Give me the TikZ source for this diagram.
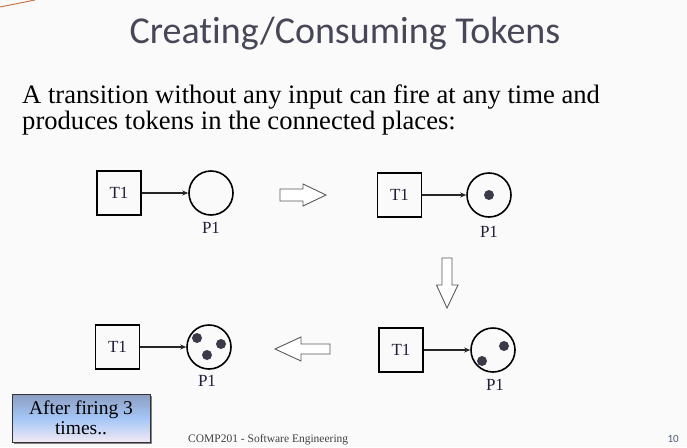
\documentclass[tikz,border=0pt]{standalone}
\usepackage{fontspec}
\setmainfont{Liberation Serif}
\newfontfamily\titlefont[Ligatures=NoCommon]{Carlito}
\usetikzlibrary{arrows.meta,shadows}
\definecolor{bgc}{HTML}{FAFAFA}
\definecolor{titlec}{HTML}{474757}
\definecolor{tokc}{HTML}{3A3A4A}
\definecolor{lblc}{HTML}{1E1E3A}
\definecolor{hollowc}{HTML}{5A5A5A}
\definecolor{calltop}{HTML}{8C9DC0}
\definecolor{callmid}{HTML}{A4C6F6}
\definecolor{callbot}{HTML}{F2EAF4}
\definecolor{decoc}{HTML}{C87A50}
\definecolor{numc}{HTML}{4A5A7A}
\begin{document}
\begin{tikzpicture}[x=1pt,y=-1pt,
  trans/.style={draw=black, line width=1.6pt, minimum width=44pt, minimum height=44pt, inner sep=0pt, font=\fontsize{17}{17}\selectfont, text=lblc},
  place/.style={circle, draw=black, line width=1.6pt, minimum size=44pt, inner sep=0pt},
  tok/.style={circle, fill=tokc, minimum size=10pt, inner sep=0pt},
  plabel/.style={font=\fontsize{17}{17}\selectfont, text=lblc, inner sep=0pt},
  arcline/.style={-{Stealth[length=6pt,width=5pt]}, line width=1.2pt, draw=black!85},
  hollow/.style={draw=hollowc, fill=white, line width=0.9pt, line join=miter},
  callout/.style={draw=black!80, line width=1pt, top color=calltop, bottom color=callbot, middle color=callmid, minimum width=138pt, minimum height=48pt, align=center, inner sep=2pt, font=\fontsize{19.5}{20}\selectfont, drop shadow={shadow xshift=2pt, shadow yshift=-2pt, fill=black!60, opacity=0.8}}
]
\useasboundingbox (0,0) rectangle (687,447);
\fill[bgc] (0,0) rectangle (687,447);
\draw[decoc, line width=1pt] (0,7) -- (35,0);

% title
\node[font=\titlefont\fontsize{38}{38}\selectfont, text=titlec, anchor=base] (title) at (345,43) {Creating/Consuming Tokens};

% body
\node[font=\fontsize{26.6}{26.6}\selectfont, anchor=base west, inner sep=0pt] (l1) at (22,103) {A transition without any input can fire at any time and};
\node[font=\fontsize{26.6}{26.6}\selectfont, anchor=base west, inner sep=0pt] (l2) at (22,129) {produces tokens in the connected places:};

% row 1 left
\node[trans] (t1a) at (119,193) {T1};
\node[place] (p1a) at (211,193) {};
\node[plabel] (la) at (211,228) {P1};
\draw[arcline] (t1a.east) -- (p1a.west);

% row 1 right
\node[trans] (t1b) at (399.5,195) {T1};
\node[place] (p1b) at (489,195) {};
\node[tok] (kb1) at (489,195) {};
\node[plabel] (lb) at (489,232) {P1};
\draw[arcline] (t1b.east) -- (p1b.west);

% row 2 right
\node[trans] (t1c) at (401,350) {T1};
\node[place] (p1c) at (493,350) {};
\node[tok] (kc1) at (504,346) {};
\node[tok] (kc2) at (482,361) {};
\node[plabel] (lc) at (495,385) {P1};
\draw[arcline] (t1c.east) -- (p1c.west);

% row 2 left
\node[trans] (t1d) at (117.5,347) {T1};
\node[place] (p1d) at (209,347) {};
\node[tok] (kd1) at (197,338) {};
\node[tok] (kd2) at (221,344) {};
\node[tok] (kd3) at (207,355) {};
\node[plabel] (ld) at (207,381) {P1};
\draw[arcline] (t1d.east) -- (p1d.west);

% hollow block arrows
\draw[hollow] (280,189) -- (303,189) -- (303,184) -- (326,195) -- (303,206) -- (303,201) -- (280,201) -- cycle;
\draw[hollow] (442,258) -- (452,258) -- (452,285) -- (458,285) -- (447,308) -- (436.5,285) -- (442,285) -- cycle;
\draw[hollow] (330,344) -- (301,344) -- (301,337) -- (275,349) -- (301,361) -- (301,354) -- (330,354) -- cycle;

% callout
\node[callout] (note) at (81,418) {After firing 3\\times..};

% footer
\node[font=\fontsize{11.5}{12}\selectfont, text=black!75, anchor=base west, inner sep=0pt] (foot) at (188,442) {COMP201 - Software Engineering};
\node[font=\titlefont\fontsize{11}{12}\selectfont, text=numc, anchor=base east, inner sep=0pt] (num) at (679,442) {10};
\end{tikzpicture}
\end{document}
